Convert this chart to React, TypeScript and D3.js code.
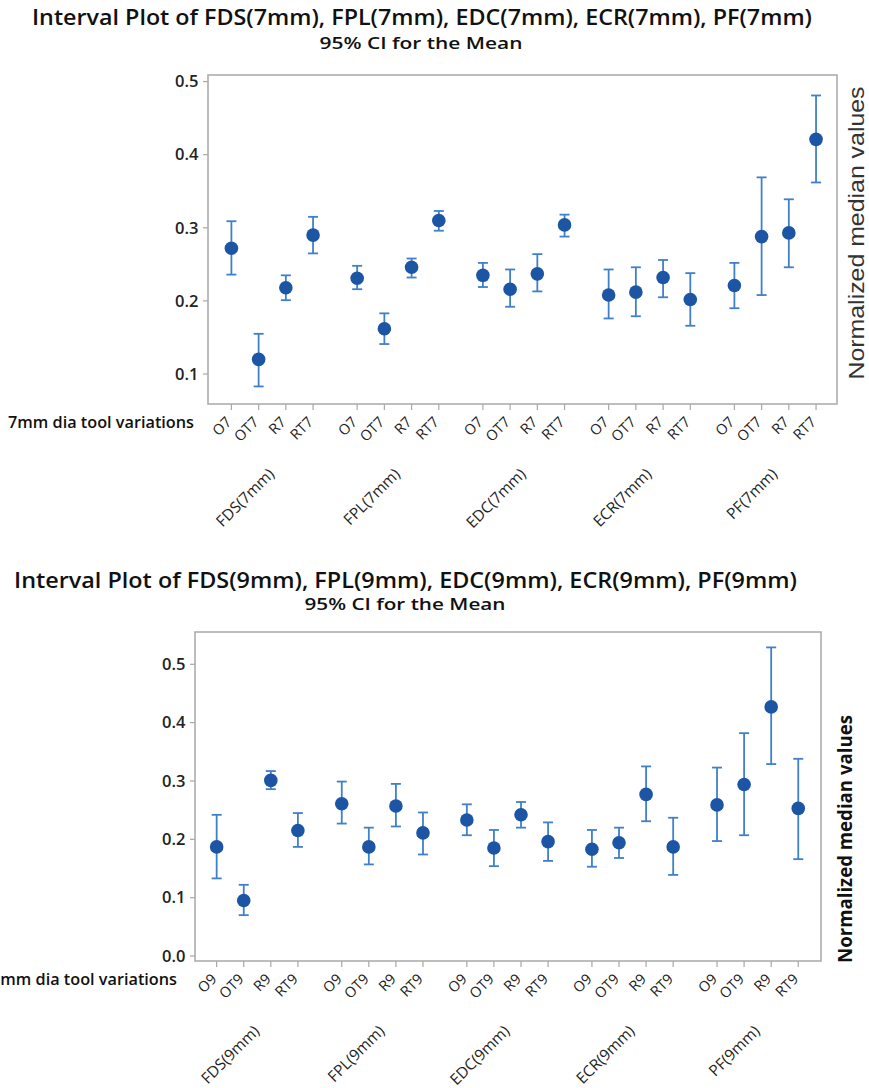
import React from 'react'
import * as d3 from 'd3'

// 7mm tool data (groups x levels)
const groups7 = ['FDS(7mm)', 'FPL(7mm)', 'EDC(7mm)', 'ECR(7mm)', 'PF(7mm)']
const levels7 = ['O7', 'OT7', 'R7', 'RT7']
const mean7 = [0.272, 0.12, 0.218, 0.29, 0.231, 0.162, 0.246, 0.31, 0.235, 0.216, 0.237, 0.304, 0.208, 0.212, 0.232, 0.202, 0.221, 0.288, 0.293, 0.421]
const lower7 = [0.236, 0.083, 0.201, 0.265, 0.216, 0.141, 0.232, 0.296, 0.219, 0.192, 0.213, 0.288, 0.176, 0.179, 0.205, 0.166, 0.19, 0.208, 0.246, 0.362]
const upper7 = [0.309, 0.155, 0.235, 0.315, 0.248, 0.183, 0.258, 0.323, 0.252, 0.243, 0.264, 0.318, 0.243, 0.246, 0.256, 0.238, 0.252, 0.369, 0.339, 0.481]
const yTicks7 = [0.1, 0.2, 0.3, 0.4, 0.5]

// 9mm tool data
const groups9 = ['FDS(9mm)', 'FPL(9mm)', 'EDC(9mm)', 'ECR(9mm)', 'PF(9mm)']
const levels9 = ['O9', 'OT9', 'R9', 'RT9']
const mean9 = [0.187, 0.095, 0.301, 0.215, 0.261, 0.187, 0.257, 0.211, 0.233, 0.185, 0.242, 0.196, 0.183, 0.194, 0.277, 0.187, 0.259, 0.294, 0.427, 0.253]
const lower9 = [0.133, 0.07, 0.286, 0.187, 0.227, 0.157, 0.222, 0.174, 0.207, 0.154, 0.22, 0.163, 0.153, 0.168, 0.231, 0.139, 0.197, 0.207, 0.329, 0.166]
const upper9 = [0.242, 0.122, 0.317, 0.245, 0.299, 0.22, 0.295, 0.246, 0.26, 0.216, 0.264, 0.229, 0.216, 0.22, 0.325, 0.237, 0.323, 0.382, 0.529, 0.338]
const yTicks9 = [0, 0.1, 0.2, 0.3, 0.4, 0.5]

const DOT = '#1c55a4'
const BAR = '#4080c8'
const FRAME = '#a8a8a8'
const SANS = '"Open Sans", "Noto Sans", sans-serif'
const GAP = 0.62

const IntervalChart = (props: any) => {
  const { groups, levels, mean, lower, upper, yTicks, yDomain, frame, xPad } = props
  const n = levels.length
  const slot = (g: number, i: number) => g * (n + GAP) + i
  const last = slot(groups.length - 1, n - 1)
  const x = d3.scaleLinear().domain([-xPad[0], last + xPad[1]]).range([frame.l, frame.r])
  const y = d3.scaleLinear().domain(yDomain).range([frame.b, frame.t])
  const fmt = d3.format('.1f')

  const pts = mean.map((m: number, k: number) => {
    const g = Math.floor(k / n)
    const i = k % n
    return { cx: x(slot(g, i)), m, lo: lower[k], hi: upper[k], label: levels[i] }
  })

  return (
    <g>
      <rect x={frame.l} y={frame.t} width={frame.r - frame.l} height={frame.b - frame.t} fill="white" stroke={FRAME} strokeWidth={1.5} />
      {yTicks.map((t: number) => (
        <g key={t}>
          <line x1={frame.l - 5} x2={frame.l} y1={y(t)} y2={y(t)} stroke={FRAME} strokeWidth={1.2} />
          <text x={frame.l - 9.5} y={y(t)} dy="0.35em" textAnchor="end" fontFamily={SANS} fontWeight={600} fontSize={16.5} fill="#222">
            {fmt(t)}
          </text>
        </g>
      ))}
      {pts.map((p: any, k: number) => (
        <g key={k}>
          <line x1={p.cx} x2={p.cx} y1={frame.b} y2={frame.b + 6} stroke={FRAME} strokeWidth={1.2} />
          <text transform={`translate(${p.cx + 1},${frame.b + 19}) rotate(-45)`} textAnchor="end" fontFamily={SANS} fontSize={14.5} fill="#222">
            {p.label}
          </text>
          <line x1={p.cx} x2={p.cx} y1={y(p.lo)} y2={y(p.hi)} stroke={BAR} strokeWidth={1.8} />
          <line x1={p.cx - 5} x2={p.cx + 5} y1={y(p.lo)} y2={y(p.lo)} stroke={BAR} strokeWidth={1.8} />
          <line x1={p.cx - 5} x2={p.cx + 5} y1={y(p.hi)} y2={y(p.hi)} stroke={BAR} strokeWidth={1.8} />
          <circle cx={p.cx} cy={y(p.m)} r={6.8} fill={DOT} />
        </g>
      ))}
      {groups.map((gName: string, g: number) => {
        const cx = (x(slot(g, 0)) + x(slot(g, n - 1))) / 2
        return (
          <text key={gName} transform={`translate(${cx + 3},${frame.b + 71}) rotate(-45)`} textAnchor="end" fontFamily={SANS} fontSize={15.5} fill="#222">
            {gName}
          </text>
        )
      })}
    </g>
  )
}

export default function App() {
  return (
    <svg width={869} height={1088} style={{ position: 'absolute', left: 0, top: 0, background: 'white' }}>
      {/* top chart */}
      <text x={32} y={25} textLength={780} lengthAdjust="spacingAndGlyphs" fontFamily={SANS} fontWeight={600} fontSize={21} fill="#111">
        Interval Plot of FDS(7mm), FPL(7mm), EDC(7mm), ECR(7mm), PF(7mm)
      </text>
      <text x={421} y={49} textAnchor="middle" textLength={203} lengthAdjust="spacingAndGlyphs" fontFamily={SANS} fontWeight={600} fontSize={17} fill="#111">
        95% CI for the Mean
      </text>
      <IntervalChart
        groups={groups7}
        levels={levels7}
        mean={mean7}
        lower={lower7}
        upper={upper7}
        yTicks={yTicks7}
        yDomain={[0.059, 0.509]}
        frame={{ l: 208, t: 75, r: 837, b: 404 }}
        xPad={[0.86, 0.77]}
      />
      <text x={194} y={428} textAnchor="end" textLength={186} lengthAdjust="spacingAndGlyphs" fontFamily={SANS} fontWeight={600} fontSize={16} fill="#111">
        7mm dia tool variations
      </text>
      <text transform="translate(856,233) rotate(-90)" dy="0.35em" textAnchor="middle" textLength={293} lengthAdjust="spacingAndGlyphs" fontFamily='"Liberation Sans", Arial, sans-serif' fontSize={22} fill="#333">
        Normalized median values
      </text>

      {/* bottom chart */}
      <text x={14} y={588} textLength={783} lengthAdjust="spacingAndGlyphs" fontFamily={SANS} fontWeight={600} fontSize={21} fill="#111">
        Interval Plot of FDS(9mm), FPL(9mm), EDC(9mm), ECR(9mm), PF(9mm)
      </text>
      <text x={405} y={610} textAnchor="middle" textLength={201} lengthAdjust="spacingAndGlyphs" fontFamily={SANS} fontWeight={600} fontSize={17} fill="#111">
        95% CI for the Mean
      </text>
      <IntervalChart
        groups={groups9}
        levels={levels9}
        mean={mean9}
        lower={lower9}
        upper={upper9}
        yTicks={yTicks9}
        yDomain={[-0.0086, 0.5554]}
        frame={{ l: 195, t: 632, r: 821, b: 961 }}
        xPad={[0.8, 0.84]}
      />
      <text x={177} y={985} textAnchor="end" textLength={186} lengthAdjust="spacingAndGlyphs" fontFamily={SANS} fontWeight={600} fontSize={16} fill="#111">
        9mm dia tool variations
      </text>
      <text transform="translate(845,839) rotate(-90)" dy="0.35em" textAnchor="middle" textLength={248} lengthAdjust="spacingAndGlyphs" fontFamily={SANS} fontWeight={700} fontSize={19} fill="#111">
        Normalized median values
      </text>
    </svg>
  )
}
